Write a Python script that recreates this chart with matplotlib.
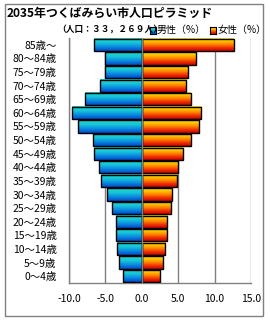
import matplotlib
matplotlib.use("Agg")
import matplotlib.pyplot as plt
import numpy as np
from matplotlib.colors import LinearSegmentedColormap
from matplotlib.patches import Rectangle

plt.rcParams['font.family'] = ['Noto Sans CJK JP', 'DejaVu Sans']

title = "2035年つくばみらい市人口ピラミッド"
subtitle = "（人口：３３，２６９人）"
ages = ["0～4歳", "5～9歳", "10～14歳", "15～19歳", "20～24歳", "25～29歳",
        "30～34歳", "35～39歳", "40～44歳", "45～49歳", "50～54歳", "55～59歳",
        "60～64歳", "65～69歳", "70～74歳", "75～79歳", "80～84歳", "85歳～"]
male = [2.6, 3.2, 3.45, 3.6, 3.6, 4.1, 4.8, 5.6, 5.9, 6.5, 6.7, 8.8,
        9.6, 7.8, 5.8, 5.0, 5.1, 6.6]
female = [2.45, 2.85, 3.25, 3.4, 3.5, 3.95, 4.2, 4.9, 5.0, 5.7, 6.7, 7.8,
          8.2, 6.7, 6.1, 6.3, 7.5, 12.6]
xticks = [-10, -5, 0, 5, 10, 15]
xticklabels = ["-10.0", "-5.0", "0.0", "5.0", "10.0", "15.0"]

W, H = 270, 320
fig = plt.figure(figsize=(W / 100, H / 100), dpi=100)
fig.patch.set_facecolor("white")

# outer frame
fig.patches.append(Rectangle((5 / W, 1 - 316 / H), 258 / W, 312 / H, transform=fig.transFigure,
                             fill=False, edgecolor="#808080", linewidth=1.0))

ax = fig.add_axes([69 / W, 1 - 283 / H, (251 - 69) / W, (283 - 38) / H])
ax.set_xlim(-10, 15)
ax.set_ylim(-0.5, len(ages) - 0.5)

cm_m = LinearSegmentedColormap.from_list("m", ["#0048C8", "#0A8CE0", "#18C8D8", "#20D4C8"])
cm_f = LinearSegmentedColormap.from_list("f", ["#C80000", "#F03000", "#FF8000", "#FFC000", "#FFE000"])
grad = np.linspace(0, 1, 64).reshape(-1, 1)

h = 0.9
for i in range(len(ages)):
    y0 = i - h / 2
    ax.imshow(grad, cmap=cm_m, aspect="auto", origin="lower",
              extent=(-male[i], 0, y0, y0 + h), zorder=2, interpolation="bilinear")
    ax.imshow(grad, cmap=cm_f, aspect="auto", origin="lower",
              extent=(0, female[i], y0, y0 + h), zorder=2, interpolation="bilinear")
bm = ax.barh(range(len(ages)), [-m for m in male], height=h, color="none",
             edgecolor="black", linewidth=1.0, zorder=3)
bf = ax.barh(range(len(ages)), female, height=h, color="none",
             edgecolor="black", linewidth=1.0, zorder=3)

for x in xticks:
    ax.axvline(x, color="#808080", linewidth=1.0, zorder=1 if x != 0 else 4)

for s in ["top", "right"]:
    ax.spines[s].set_visible(False)
for s in ["left", "bottom"]:
    ax.spines[s].set_color("#808080")
    ax.spines[s].set_linewidth(1.0)

ax.set_xticks(xticks)
ax.set_xticklabels(xticklabels, fontsize=7.5)
ax.set_yticks(range(len(ages)))
ax.set_yticklabels(ages, fontsize=7.5)
ax.tick_params(length=0)
ax.tick_params(axis="x", pad=8)
ax.tick_params(axis="y", pad=9)
ax.set_aspect("auto")

fig.text(7 / W, 1 - 13 / H, title, fontsize=8.6, fontweight="bold", va="center", ha="left")
fig.text(110 / W, 1 - 29 / H, subtitle, fontsize=6.3, fontweight="bold", va="center", ha="center")

# legend
def legend_item(x, cmap, label):
    lax = fig.add_axes([x / W, 1 - 34 / H, 6 / W, 7 / H])
    lax.imshow(grad, cmap=cmap, aspect="auto", origin="lower", extent=(0, 1, 0, 1))
    lax.set_xticks([]); lax.set_yticks([])
    for s in lax.spines.values():
        s.set_color("black"); s.set_linewidth(0.8)
    fig.text((x + 7) / W, 1 - 30 / H, label, fontsize=7.2, va="center", ha="left")

legend_item(150, cm_m, "男性（%）")
legend_item(210, cm_f, "女性（%）")

fig.savefig("out.png", dpi=100)
